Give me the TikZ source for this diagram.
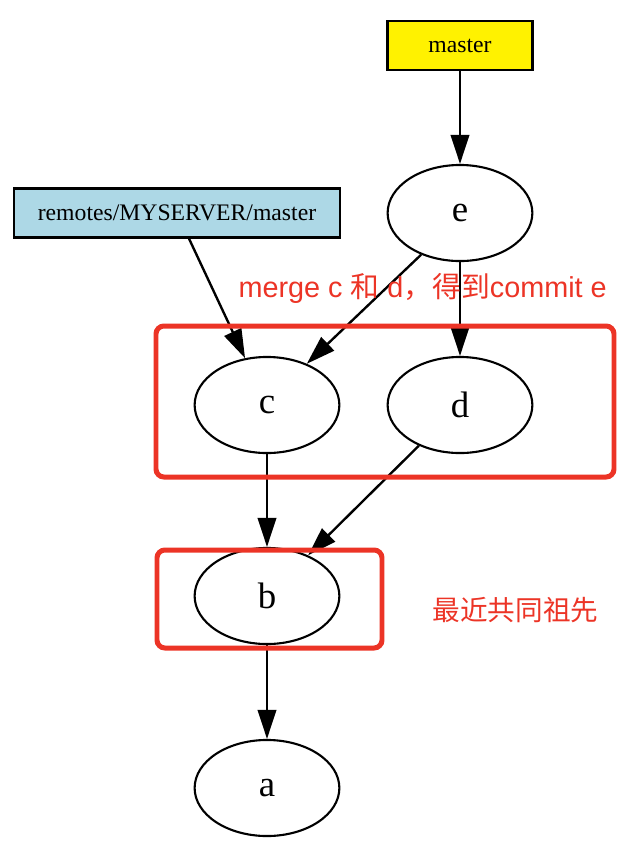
\documentclass[tikz,border=0pt]{standalone}
\usepackage{fontspec}
\setmainfont{Liberation Serif}
\newfontfamily\helv{Liberation Sans}
\newfontfamily\cjk{Noto Sans CJK SC}
\usetikzlibrary{arrows.meta,shapes.geometric}
\definecolor{markred}{RGB}{236,52,38}
\definecolor{headblue}{RGB}{173,216,230}
\def\notefont{\fontsize{10.5}{12}\selectfont}

\begin{document}
\begin{tikzpicture}[x=0.38pt, y=-0.38pt,
	commit/.style={draw, ellipse, line width=0.8pt, minimum width=55pt, minimum height=36.5pt, inner sep=0pt, font=\fontsize{14}{16}\selectfont},
	ref/.style={draw, line width=1pt, minimum height=18.6pt, inner sep=0pt, font=\fontsize{9}{11}\selectfont},
	edge/.style={line width=0.9pt, -{Triangle[length=11pt, width=7pt]}},
	group/.style={draw=markred, line width=1.9pt, rounded corners=3pt},
	note/.style={text=markred, inner sep=0pt, anchor=west}]
			%%%%% START %%%%%
			\useasboundingbox (0, 0) rectangle (640, 844);
			
			\node[ref, fill=yellow, minimum width=55pt] (master) at (460, 45.5) {master};
			\node[ref, fill=headblue, minimum width=124pt] (remote) at (177, 213) {remotes/MYSERVER/master};
			
			\node[commit] (e) at (460, 213) {e};
			\node[commit] (c) at (267, 405) {c};
			\node[commit] (d) at (460, 405) {d};
			\node[commit] (b) at (267, 596) {b};
			\node[commit] (a) at (267, 788) {a};
			
			\draw[edge] (master) -- (e);
			\draw[edge] (remote) -- (c);
			\draw[edge] (e.227) -- (c.46);
			\draw[edge] (e) -- (d);
			\draw[edge] (c) -- (b);
			\draw[edge] (d) -- (b);
			\draw[edge] (b) -- (a);
			
			\node[note] (mergenote) at (238, 288) {\fontsize{10.95}{12}\selectfont\helv merge c {\cjk 和} d{\cjk ，得到}commit e};
			\node[note] (basenote) at (432, 610) {\notefont\cjk 最近共同祖先};
			
			\draw[group] (156, 326) rectangle (614, 477);
			\draw[group] (157, 550) rectangle (382, 648);
			
			%%%%% END %%%%%
		\end{tikzpicture}
\end{document}
